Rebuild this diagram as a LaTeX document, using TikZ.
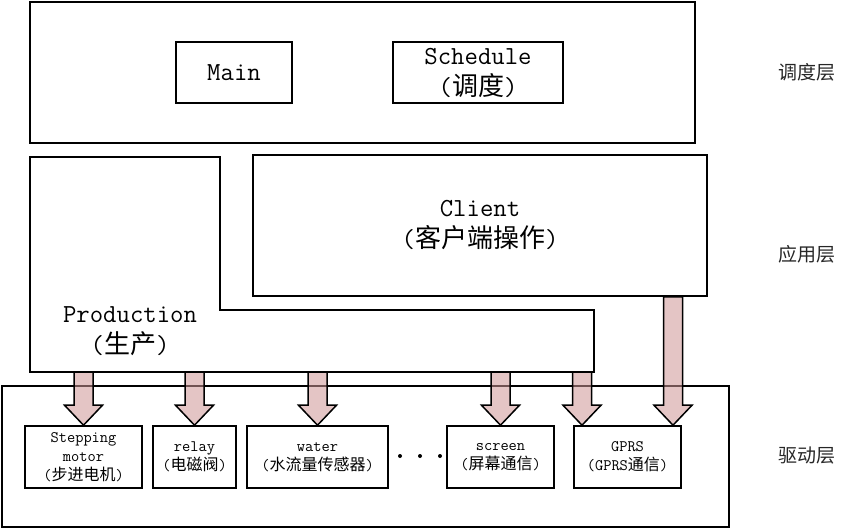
\documentclass[tikz,border=0pt]{standalone}
\usepackage{fontspec}
\usetikzlibrary{calc}
\newfontfamily\cjk{Noto Sans CJK SC}
\newcommand\zh[1]{{\cjk #1}}
\definecolor{arrowpink}{RGB}{205,150,150}
\tikzset{
  box/.style={draw, line width=1.6pt, inner sep=0pt, rectangle},
  bigtext/.style={font=\ttfamily\fontsize{26}{31}\selectfont, align=center},
  smalltext/.style={font=\ttfamily\fontsize{16}{19}\selectfont, align=center},
  layerlabel/.style={font=\cjk\fontsize{19}{19}\selectfont, text=black!85},
  fatarrowstyle/.style={fill=arrowpink, fill opacity=0.55, draw=black, line width=1.5pt, line join=miter},
}
\newcommand\fatarrow[2]{%
  \path[fatarrowstyle] let \p1=(#1), \p2=(#2) in
    (\x2-9.5pt,\y1) -- (\x2-9.5pt,\y2+20pt) -- (\x2-19pt,\y2+20pt) -- (\x2,\y2)
    -- (\x2+19pt,\y2+20pt) -- (\x2+9.5pt,\y2+20pt) -- (\x2+9.5pt,\y1) -- cycle;}
\begin{document}
\begin{tikzpicture}[x=1pt,y=-1pt]
\useasboundingbox (0,0) rectangle (848,530);
% scheduling layer
\node[box, minimum width=665pt, minimum height=141pt] (top) at (362.5,72.5) {};
\node[box, bigtext, minimum width=116pt, minimum height=61pt] (main) at (234,72.5) {Main};
\node[box, bigtext, minimum width=170pt, minimum height=61pt] (sched) at (478,72.5) {Schedule\\(\zh{调度})};
% application layer
\node[box, bigtext, minimum width=454pt, minimum height=141pt] (client) at (480,225.5) {Client\\(\zh{客户端操作})};
\draw[line width=1.6pt, line join=miter] (30,157) -- (220,157) -- (220,310) -- (594,310) -- (594,372) -- (30,372) -- cycle;
\coordinate (prodS) at (30,372);
\node[bigtext] (prodtext) at (130,331) {Production\\(\zh{生产})};
% driver layer
\node[box, minimum width=727pt, minimum height=141pt] (driver) at (365.5,456.5) {};
\node[box, smalltext, minimum width=117pt, minimum height=62pt] (stepping) at (83.5,457) {Stepping\\motor\\(\zh{步进电机})};
\node[box, smalltext, minimum width=83pt, minimum height=62pt] (relay) at (194.5,457) {relay\\(\zh{电磁阀})};
\node[box, smalltext, minimum width=141pt, minimum height=62pt] (water) at (317.5,457) {water\\(\zh{水流量传感器})};
\node[box, smalltext, minimum width=107pt, minimum height=62pt] (screen) at (500.5,457) {screen\\(\zh{屏幕通信})};
\node[box, smalltext, minimum width=107pt, minimum height=62pt] (gprs) at (627.5,457) {GPRS\\(GPRS\zh{通信})};
\fill (400,456) circle (2pt) (420,456) circle (2pt) (440,456) circle (2pt);
% layer labels
\node[layerlabel] (l1) at (807,72) {调度层};
\node[layerlabel] (l2) at (807,254) {应用层};
\node[layerlabel] (l3) at (807,456) {驱动层};
% arrows
\coordinate (g1) at ([xshift=-45.5pt]gprs.north);
\coordinate (g2) at ([xshift=45.5pt]gprs.north);
\fatarrow{prodS -| stepping.north}{stepping.north}
\fatarrow{prodS -| relay.north}{relay.north}
\fatarrow{prodS -| water.north}{water.north}
\fatarrow{prodS -| screen.north}{screen.north}
\fatarrow{prodS -| g1}{g1}
\fatarrow{client.south -| g2}{g2}
\end{tikzpicture}
\end{document}
